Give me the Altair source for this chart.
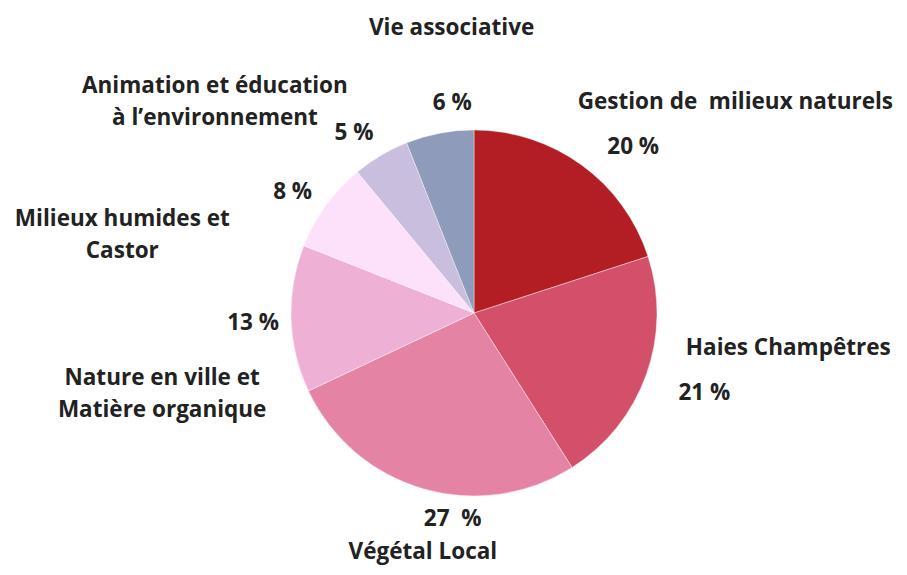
import math
import altair as alt
import pandas as pd

# ---- data ----
categories = [
    "Gestion de milieux naturels",
    "Haies Champêtres",
    "Végétal Local",
    "Nature en ville et Matière organique",
    "Milieux humides et Castor",
    "Animation et éducation à l'environnement",
    "Vie associative",
]
values = [20, 21, 27, 13, 8, 5, 6]
pct_labels = ["20 %", "21 %", "27\u00a0 %", "13 %", "8 %", "5 %", "6 %"]
name_labels = [
    ["Gestion de\u00a0 milieux naturels"],
    ["Haies Champêtres"],
    ["Végétal Local"],
    ["Nature en ville et", "Matière organique"],
    ["Milieux humides et", "Castor"],
    ["Animation et éducation", "à l\u2019environnement"],
    ["Vie associative"],
]
colors = ["#B21E23", "#D4506A", "#E583A4", "#EFB0D5", "#FDE0FA", "#C9BEDD", "#8F9BBA"]

# ---- layout (styles / offsets, not data) ----
CX, CY, R = 466, 305, 183
FONT = "Open Sans"
FS = 22.5
# (radius, dx, dy) for percentage labels and name labels
pct_layout = [(230, 24, 20), (230, 14, 2), (220, 40, -5), (220, -1, 3),
              (218, -5, 7), (216, -10, 6), (212, 18, -2)]
name_layout = [(300, 85, 32), (300, 32, -67), (255, 20, -6), (300, -12, 56),
               (300, -109, 82), (340, -86, 66), (285, 31, -5)]

df = pd.DataFrame({
    "cat": categories,
    "val": values,
    "order": list(range(len(categories))),
    "pct": pct_labels,
    "name": name_labels,
})

theta_scale = alt.Scale(domain=[0, 100], range=[0, 2 * math.pi])
base = alt.Chart(df)

pie = base.mark_arc(radius=R, stroke="#ffffff", strokeWidth=0.4).encode(
    theta=alt.Theta("val:Q", stack=True, scale=theta_scale),
    order=alt.Order("order:O"),
    color=alt.Color("cat:N", scale=alt.Scale(domain=categories, range=colors), legend=None),
    x=alt.value(CX),
    y=alt.value(CY),
)

mid_base = base.transform_window(
    cum="sum(val)", sort=[alt.SortField("order")], frame=[None, 0]
).transform_calculate(mid="datum.cum - datum.val / 2")

layers = [pie]
for i, cat in enumerate(categories):
    r, dx, dy = pct_layout[i]
    layers.append(
        mid_base.transform_filter(alt.datum.cat == cat).mark_text(
            radius=r, dx=dx, dy=dy, font=FONT, fontWeight="bold", fontSize=FS,
            color="#222222", align="center", baseline="middle",
        ).encode(
            theta=alt.Theta("mid:Q", stack=None, scale=theta_scale),
            text="pct:N", x=alt.value(CX), y=alt.value(CY),
        )
    )
    r, dx, dy = name_layout[i]
    layers.append(
        mid_base.transform_filter(alt.datum.cat == cat).mark_text(
            radius=r, dx=dx, dy=dy, font=FONT, fontWeight="bold", fontSize=FS,
            color="#222222", align="center", baseline="middle", lineHeight=32,
        ).encode(
            theta=alt.Theta("mid:Q", stack=None, scale=theta_scale),
            text="name", x=alt.value(CX), y=alt.value(CY),
        )
    )

chart = alt.layer(*layers).properties(
    width=891, height=559, autosize=alt.AutoSizeParams(type="none"), padding=0,
    background="#ffffff",
).configure_view(stroke=None, strokeWidth=0)

chart.save("out.html", embed_options={"renderer": "svg", "actions": False})
